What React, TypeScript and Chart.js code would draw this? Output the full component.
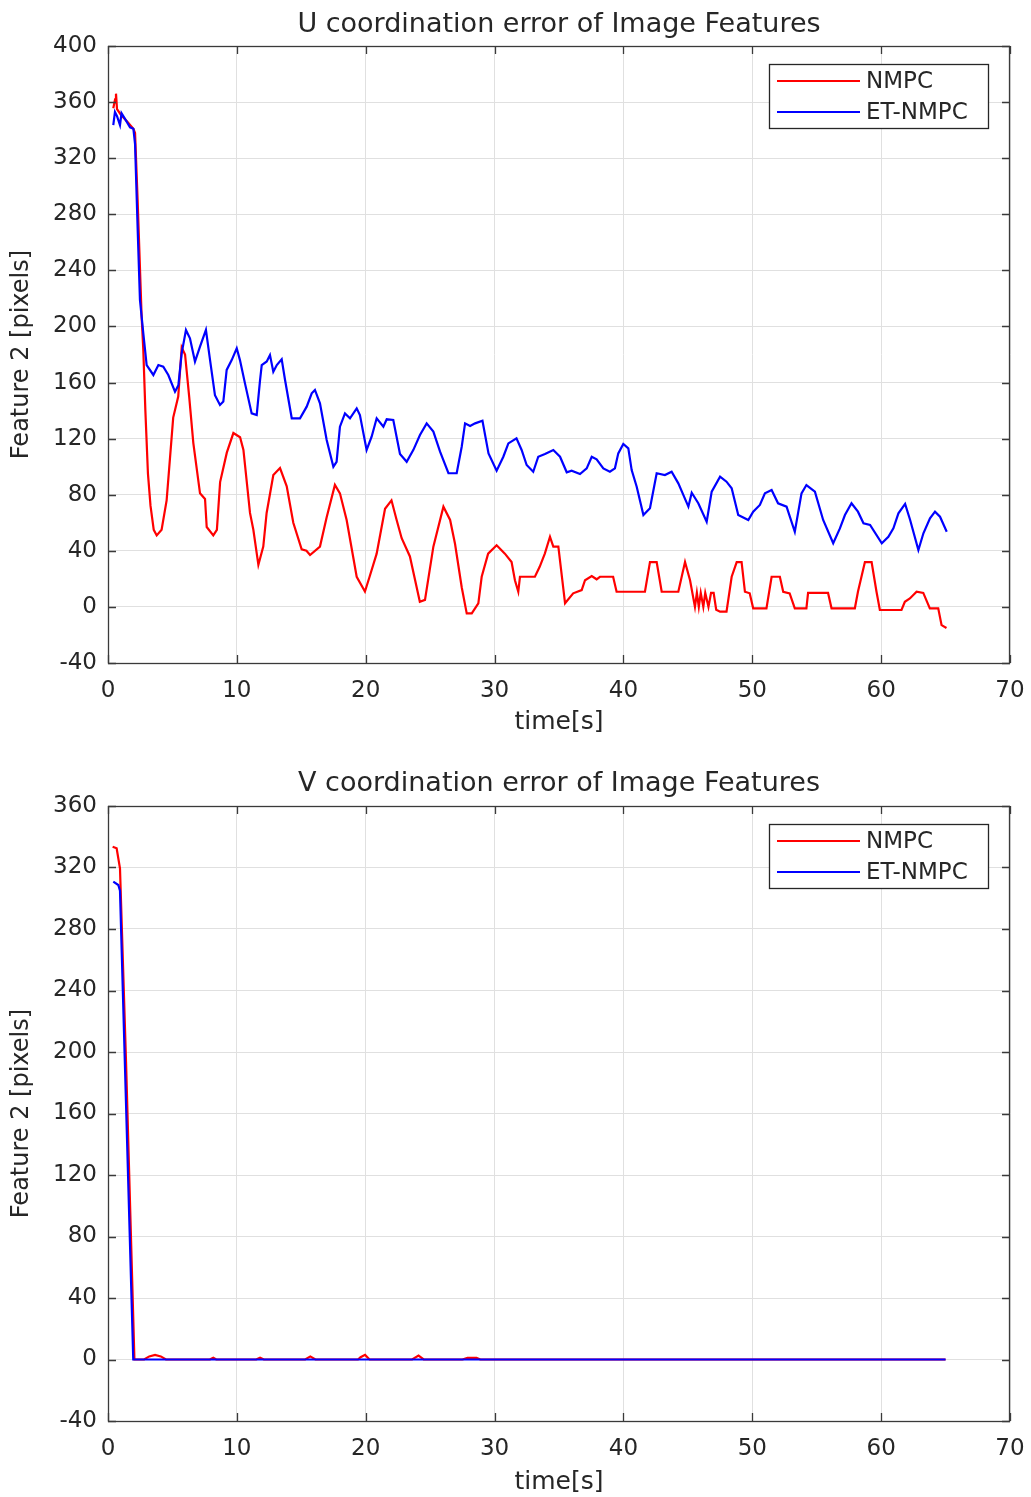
import React, { useEffect, useRef } from 'react';
import { Chart, registerables } from 'chart.js';

Chart.register(...registerables);

// ---------------- Data ----------------
const seriesNames = ['NMPC', 'ET-NMPC'];

// U coordinate error (top)
const uTimeNMPC = [0.41, 0.55, 0.62, 0.7, 1.0, 1.5, 1.97, 2.1, 2.3, 2.61, 2.74, 2.9, 3.1, 3.3, 3.55, 3.78, 4.16, 4.55, 5.06, 5.45, 5.72, 5.98, 6.3, 6.62, 7.14, 7.53, 7.66, 8.17, 8.45, 8.7, 9.22, 9.73, 10.25, 10.51, 11.02, 11.28, 11.67, 12.05, 12.31, 12.83, 13.35, 13.87, 14.38, 15.03, 15.4, 15.68, 16.45, 16.97, 17.61, 18.0, 18.52, 19.3, 19.94, 20.3, 20.85, 21.5, 22.0, 22.4, 22.79, 23.43, 24.2, 24.6, 25.25, 26.03, 26.55, 26.93, 27.45, 27.84, 28.23, 28.74, 29.0, 29.5, 30.16, 30.8, 31.32, 31.58, 31.84, 31.97, 33.13, 33.5, 33.9, 34.3, 34.56, 34.95, 35.47, 36.1, 36.76, 37.02, 37.54, 37.92, 38.18, 39.2, 39.47, 41.67, 42.06, 42.58, 42.97, 44.26, 44.78, 45.17, 45.55, 45.7, 45.85, 46.0, 46.2, 46.35, 46.6, 46.8, 47.0, 47.2, 47.5, 48.0, 48.4, 48.79, 49.17, 49.43, 49.8, 50.07, 51.1, 51.5, 52.14, 52.4, 52.9, 53.3, 54.2, 54.33, 55.88, 56.15, 57.96, 58.2, 58.74, 59.26, 59.64, 59.9, 61.58, 61.84, 62.23, 62.75, 63.27, 63.78, 64.43, 64.69, 65.07];
const uValNMPC = [355.6, 362, 366, 355, 351, 346, 341, 338, 290, 207, 183, 140, 95, 72, 55, 51, 55, 76, 135, 150, 185, 180, 150, 117, 81, 77, 57, 51, 55, 89, 110, 124, 121, 112, 67, 55, 30, 43, 67, 94, 99, 86, 60, 41, 40, 37, 43, 64, 87, 81, 62, 21.5, 11, 21.5, 38, 70, 76, 62, 49, 36, 3.7, 5, 43, 71.5, 62, 45, 14, -4.6, -4.6, 2.6, 21.5, 38, 44, 38, 32, 19, 10.8, 21.5, 21.5, 28.6, 38, 50, 43, 43, 2.6, 9.7, 12, 19, 22, 19.7, 21.5, 21.5, 10.8, 10.8, 32, 32, 10.8, 10.8, 32, 19, 0, 10, 0, 10, 0, 10, 0, 10, 10, -2, -3.4, -3.4, 21.5, 32, 32, 10.8, 9.7, -1, -1, 21.5, 21.5, 10.8, 9.7, -1, -1, 10, 10, -1, -1, 10.8, 32, 32, 10.8, -2.2, -2.2, 3.7, 6, 10.8, 10, -1, -1, -13, -15];

const uTimeET = [0.41, 0.54, 0.7, 0.93, 1.05, 1.32, 1.71, 1.97, 2.1, 2.3, 2.48, 2.74, 3.0, 3.52, 3.91, 4.29, 4.68, 5.2, 5.46, 5.72, 6.05, 6.36, 6.75, 7.14, 7.6, 7.92, 8.3, 8.69, 8.95, 9.21, 9.6, 9.99, 10.24, 10.63, 11.15, 11.54, 11.8, 11.93, 12.32, 12.57, 12.83, 13.1, 13.48, 13.74, 14.26, 14.9, 15.42, 15.81, 16.06, 16.45, 16.97, 17.49, 17.74, 18.0, 18.39, 18.78, 19.3, 19.55, 20.07, 20.46, 20.85, 21.37, 21.63, 22.14, 22.66, 23.18, 23.7, 24.21, 24.73, 25.25, 25.77, 26.42, 27.06, 27.45, 27.71, 28.1, 28.49, 29.06, 29.53, 30.16, 30.68, 31.07, 31.7, 32.1, 32.49, 33.0, 33.39, 33.91, 34.56, 35.08, 35.6, 35.98, 36.63, 37.15, 37.54, 37.92, 38.44, 38.95, 39.34, 39.6, 39.99, 40.38, 40.64, 41.03, 41.55, 42.06, 42.58, 43.22, 43.74, 44.26, 45.04, 45.3, 45.81, 46.46, 46.85, 47.5, 48.0, 48.4, 48.91, 49.69, 50.07, 50.59, 50.98, 51.5, 52.0, 52.66, 53.3, 53.82, 54.2, 54.86, 55.5, 56.28, 56.8, 57.19, 57.7, 58.2, 58.63, 59.14, 60.05, 60.56, 60.95, 61.34, 61.86, 62.25, 62.89, 63.28, 63.79, 64.18, 64.57, 65.09];
const uValET = [343.6, 353, 350, 343.6, 352, 348, 342, 341, 330, 270, 219, 195, 172.5, 165.4, 172.5, 171.3, 165.4, 153.5, 158, 181, 197.5, 191.5, 175, 185.6, 197.5, 176, 151, 144, 146.4, 169, 176, 184.4, 176, 159.4, 138, 136.8, 161.8, 172.5, 175, 179.6, 167.7, 172.5, 176.6, 161.8, 134.5, 134.5, 142.8, 152.3, 154.7, 145.2, 119, 100, 103.5, 128.5, 138, 134.5, 141.6, 136.8, 111.9, 121.4, 134.5, 128.5, 133.8, 133.3, 109, 103.5, 112, 122.6, 130.9, 125, 110.7, 95.3, 95.3, 114.2, 130.9, 129, 130.9, 132.8, 109.5, 97.2, 107.1, 116.6, 120.2, 111.9, 101.2, 96.4, 107.1, 109, 111.9, 107.1, 96, 97.2, 94.8, 98.8, 107.1, 105.2, 98.8, 96.4, 98.8, 109.5, 116.2, 113.1, 97.6, 85.7, 65.5, 70.3, 95.3, 94, 96.4, 88.1, 71.5, 81.4, 73.9, 60.8, 82.2, 92.9, 89.3, 84.6, 65.5, 62, 67.9, 72.7, 81, 83.4, 73.9, 71.5, 53.6, 81, 86.9, 82.2, 62, 45.4, 56, 65.5, 73.9, 67.9, 59.6, 58.4, 45.4, 50, 56, 66.7, 73.4, 62, 40.6, 52.5, 63.2, 67.9, 64.3, 53.6];

// V coordinate error (bottom)
const vTimeNMPC = [0.36, 0.67, 0.93, 1.4, 2.05, 2.8, 3.2, 3.65, 4.1, 4.5, 7.9, 8.17, 8.4, 11.5, 11.8, 12.1, 15.3, 15.7, 16.1, 19.4, 19.6, 19.95, 20.3, 23.6, 24.1, 24.5, 27.5, 27.9, 28.6, 28.9, 65];
const vValNMPC = [333.5, 332.5, 319.5, 193.7, 0, 0, 2, 3, 2, 0, 0, 1.2, 0, 0, 1.2, 0, 0, 2, 0, 0, 1.5, 3, 0, 0, 2.5, 0, 0, 1, 1, 0, 0];
const vTimeET = [0.41, 0.8, 0.93, 1.96, 65];
const vValET = [310.8, 308.6, 305, 0, 0];

const xTickValues = [0, 10, 20, 30, 40, 50, 60, 70];

// ---------------- Styles ----------------
const FONT = '"DejaVu Sans", sans-serif';
const TEXT = '#262626';
const RED = '#ff0000';
const BLUE = '#0000ff';

const toPoints = (t: number[], v: number[]) => t.map((x, i) => ({ x, y: v[i] }));

const matlabPlugin = {
  id: 'matlabDecor',
  afterDraw(chart: any) {
    const ctx = chart.ctx;
    const { left, right, top, bottom } = chart.chartArea;
    const opts = chart.options.plugins.matlabDecor || {};
    ctx.save();
    // box
    ctx.strokeStyle = '#3a3a3a';
    ctx.lineWidth = 1.3;
    ctx.strokeRect(left + 0.5, top + 0.5, right - left - 1, bottom - top);
    // inner ticks
    const tl = 8;
    const xs = chart.scales.x;
    const ys = chart.scales.y;
    ctx.beginPath();
    xs.ticks.forEach((t: any) => {
      const px = Math.round(xs.getPixelForValue(t.value)) + 0.5;
      ctx.moveTo(px, bottom); ctx.lineTo(px, bottom - tl);
      ctx.moveTo(px, top); ctx.lineTo(px, top + tl);
    });
    ys.ticks.forEach((t: any) => {
      const py = Math.round(ys.getPixelForValue(t.value)) + 0.5;
      ctx.moveTo(left, py); ctx.lineTo(left + tl, py);
      ctx.moveTo(right, py); ctx.lineTo(right - tl, py);
    });
    ctx.stroke();

    // title
    ctx.fillStyle = TEXT;
    ctx.font = `27px ${FONT}`;
    ctx.textAlign = 'center';
    ctx.textBaseline = 'middle';
    ctx.fillText(opts.title || '', (left + right) / 2, top + (opts.titleOffset ?? -21));

    // legend
    const bx = right - 241;
    const by = top + 18;
    const bw = 219;
    const bh = 64;
    ctx.fillStyle = '#ffffff';
    ctx.fillRect(bx, by, bw, bh);
    ctx.strokeStyle = '#262626';
    ctx.lineWidth = 1.3;
    ctx.strokeRect(bx + 0.5, by + 0.5, bw, bh);
    ctx.font = `23px ${FONT}`;
    ctx.textAlign = 'left';
    chart.data.datasets.forEach((ds: any, i: number) => {
      const ly = by + 17 + i * 31;
      ctx.strokeStyle = ds.borderColor;
      ctx.lineWidth = 2;
      ctx.beginPath();
      ctx.moveTo(bx + 8, ly);
      ctx.lineTo(bx + 91, ly);
      ctx.stroke();
      ctx.fillStyle = TEXT;
      ctx.fillText(ds.label, bx + 97, ly + 1);
    });
    ctx.restore();
  },
};

function buildConfig(opts: {
  title: string;
  titleOffset: number;
  nmpc: { x: number; y: number }[];
  et: { x: number; y: number }[];
  yMin: number;
  yMax: number;
  topPad: number;
  xAxisHeight: number;
  xTitlePad: number;
}) {
  return {
    type: 'line' as const,
    data: {
      datasets: [
        { label: seriesNames[0], data: opts.nmpc, borderColor: RED, backgroundColor: RED, borderWidth: 2.2, pointRadius: 0, tension: 0, order: 1 },
        { label: seriesNames[1], data: opts.et, borderColor: BLUE, backgroundColor: BLUE, borderWidth: 2.2, pointRadius: 0, tension: 0, order: 0 },
      ],
    },
    options: {
      animation: false as const,
      responsive: false,
      devicePixelRatio: 1,
      layout: { padding: { top: opts.topPad, right: 21, left: 0, bottom: 0 } },
      plugins: {
        legend: { display: false },
        tooltip: { enabled: false },
        title: { display: false },
        matlabDecor: { title: opts.title, titleOffset: opts.titleOffset },
      },
      scales: {
        x: {
          type: 'linear' as const,
          min: 0,
          max: 70,
          afterBuildTicks: (s: any) => { s.ticks = xTickValues.map((v) => ({ value: v })); },
          afterFit: (s: any) => { s.height = opts.xAxisHeight; s.paddingLeft = 0; s.paddingRight = 0; },
          ticks: { color: TEXT, font: { family: FONT, size: 23 }, padding: 14, maxRotation: 0, autoSkip: false },
          grid: { color: '#e0e0e0', lineWidth: 1, drawTicks: false },
          border: { display: false },
          title: { display: true, text: 'time[s]', color: TEXT, font: { family: FONT, size: 25 }, padding: { top: 0, bottom: opts.xTitlePad } },
        },
        y: {
          type: 'linear' as const,
          min: opts.yMin,
          max: opts.yMax,
          ticks: { stepSize: 40, color: TEXT, font: { family: FONT, size: 23 }, padding: 11 },
          afterFit: (s: any) => { s.width = 108; s.paddingTop = 0; s.paddingBottom = 0; },
          grid: { color: '#e0e0e0', lineWidth: 1, drawTicks: false },
          border: { display: false },
          title: { display: true, text: 'Feature 2 [pixels]', color: TEXT, font: { family: FONT, size: 24 }, padding: { top: 7, bottom: 0 } },
        },
      },
    },
    plugins: [matlabPlugin],
  };
}

function ChartCanvas({ config, width, height }: { config: any; width: number; height: number }) {
  const ref = useRef<HTMLCanvasElement | null>(null);
  useEffect(() => {
    if (!ref.current) return;
    const chart = new Chart(ref.current, config);
    return () => chart.destroy();
  }, [config]);
  return <canvas ref={ref} width={width} height={height} style={{ display: 'block', width, height }} />;
}

const topConfig = buildConfig({
  title: 'U coordination error of Image Features',
  titleOffset: -21,
  nmpc: toPoints(uTimeNMPC, uValNMPC),
  et: toPoints(uTimeET, uValET),
  yMin: -40,
  yMax: 400,
  topPad: 46,
  xAxisHeight: 94,
  xTitlePad: 20,
});

const bottomConfig = buildConfig({
  title: 'V coordination error of Image Features',
  titleOffset: -22,
  nmpc: toPoints(vTimeNMPC, vValNMPC),
  et: toPoints(vTimeET, vValET),
  yMin: -40,
  yMax: 360,
  topPad: 49,
  xAxisHeight: 76,
  xTitlePad: 0,
});

export default function App() {
  return (
    <div style={{ position: 'absolute', left: 0, top: 0, width: 1031, height: 1497, background: '#fff' }}>
      <ChartCanvas config={topConfig} width={1031} height={757} />
      <ChartCanvas config={bottomConfig} width={1031} height={740} />
    </div>
  );
}
